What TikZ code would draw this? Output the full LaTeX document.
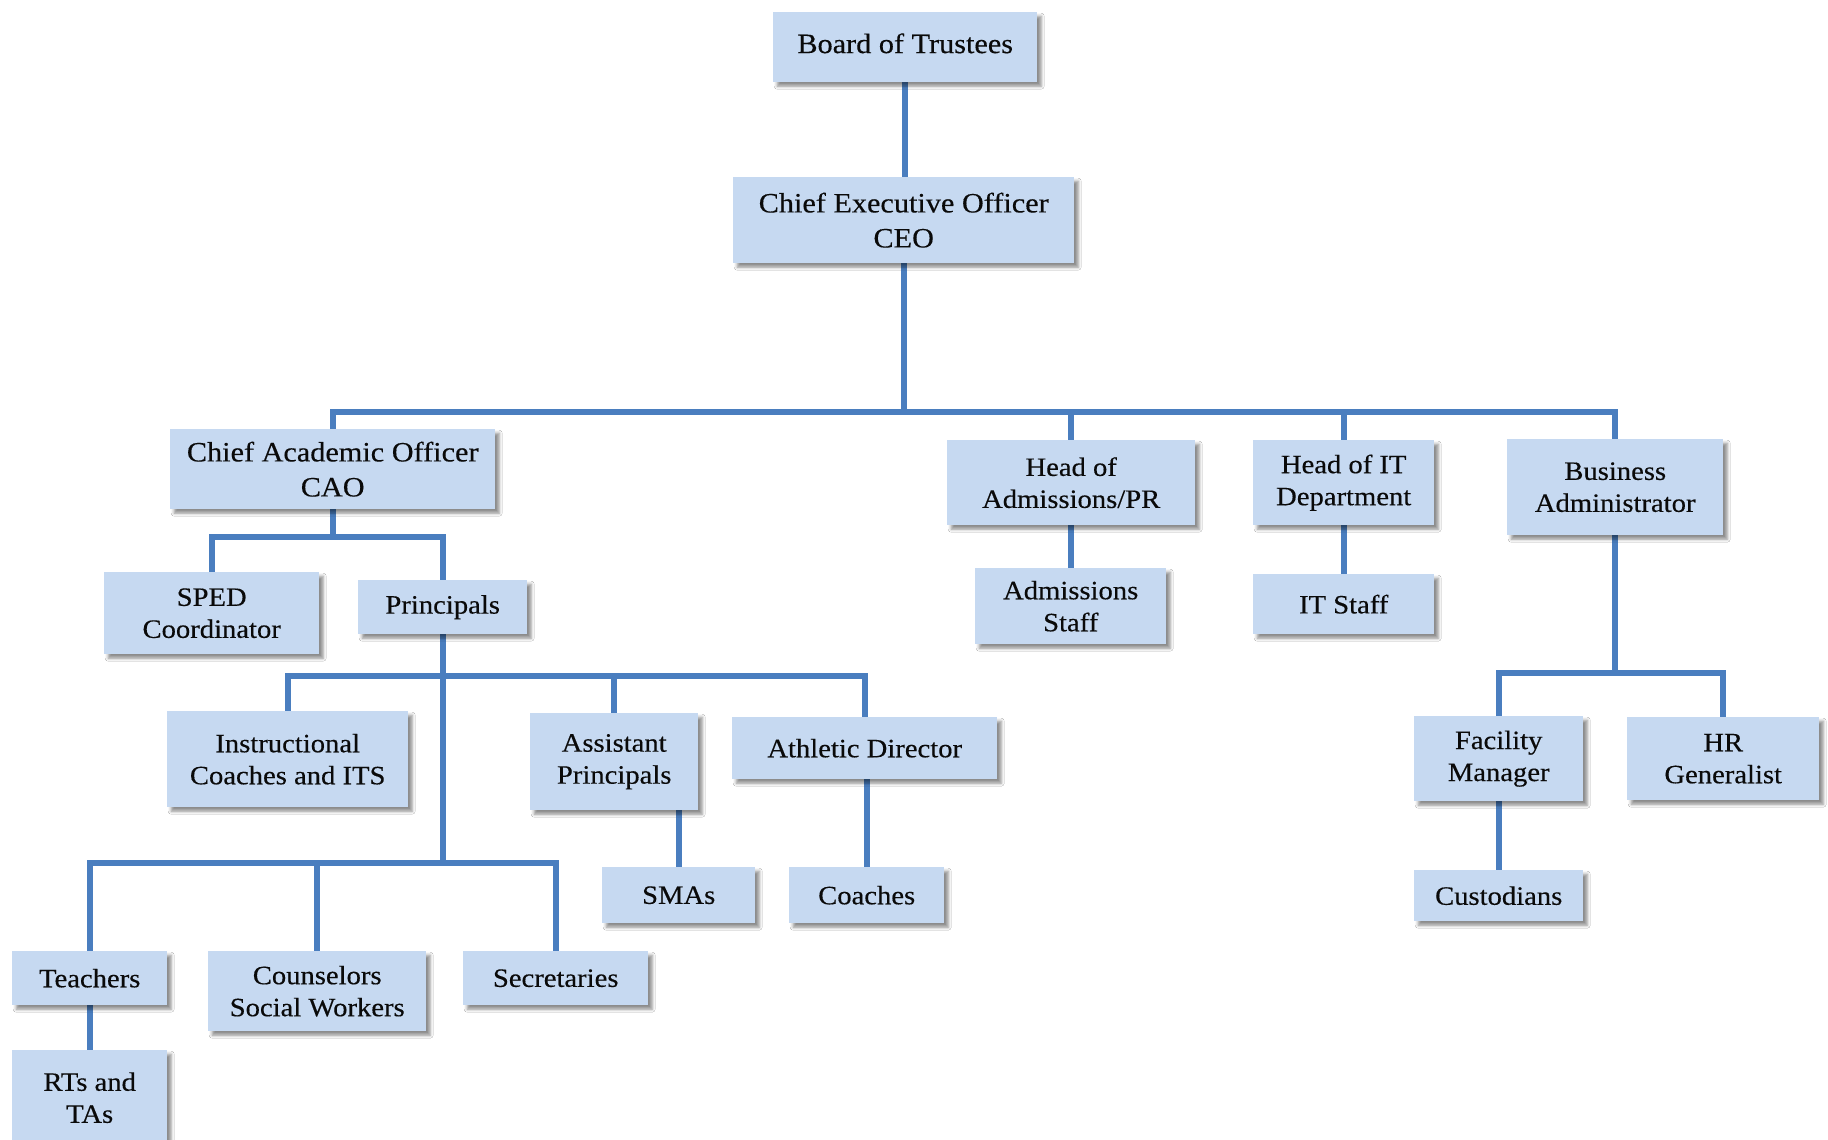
\documentclass[tikz,border=0pt]{standalone}
\usepackage{fontspec}
\setmainfont{Liberation Serif}[FakeStretch=1.08, FakeBold=0.35]
\usetikzlibrary{shadows.blur}
\pgfdeclarelayer{bg}
\pgfsetlayers{bg,main}
\definecolor{boxfill}{HTML}{C6D9F1}
\definecolor{linec}{HTML}{4A7EBF}
\definecolor{txt}{HTML}{0A0A0A}
\tikzset{
  box/.style={draw=none, fill=boxfill, text=txt, inner sep=0pt, anchor=north west,
    align=center, font=\fontsize{26.5}{32}\selectfont,
    blur shadow={shadow xshift=4pt, shadow yshift=-4pt, shadow blur radius=3pt, shadow opacity=45}},
  bigbox/.style={box, font=\fontsize{28}{35}\selectfont},
  conn/.style={draw=linec, line width=6pt, line join=miter},
}
\begin{document}
\begin{tikzpicture}[x=1pt,y=-1pt]
\useasboundingbox (0,0) rectangle (1828,1140);

\node[bigbox, minimum width=264pt, minimum height=70pt] (bot) at (773,12) {\raisebox{8pt}{Board of Trustees}};
\node[bigbox, minimum width=341pt, minimum height=86pt] (ceo) at (733,177) {Chief Executive Officer\\CEO};
\node[bigbox, minimum width=325pt, minimum height=80pt] (cao) at (170,429) {Chief Academic Officer\\CAO};
\node[box, minimum width=215pt, minimum height=82pt] (sped) at (104,572) {SPED\\Coordinator};
\node[box, minimum width=169pt, minimum height=54pt] (prin) at (358,580) {Principals};
\node[box, minimum width=241pt, minimum height=96pt] (ic) at (167,711) {Instructional\\Coaches and ITS};
\node[box, minimum width=168pt, minimum height=97pt] (ap) at (530,713) {Assistant\\Principals};
\node[box, minimum width=265pt, minimum height=62pt] (ad) at (732,717) {Athletic Director};
\node[box, minimum width=153pt, minimum height=56pt] (smas) at (602,867) {SMAs};
\node[box, minimum width=155pt, minimum height=56pt] (coach) at (789,867) {Coaches};
\node[box, minimum width=155pt, minimum height=54pt] (teach) at (12,951) {Teachers};
\node[box, minimum width=218pt, minimum height=80pt] (couns) at (208,951) {Counselors\\Social Workers};
\node[box, minimum width=185pt, minimum height=54pt] (secr) at (463,951) {Secretaries};
\node[box, minimum width=155pt, minimum height=95pt] (rts) at (12,1050) {RTs and\\TAs};
\node[box, minimum width=248pt, minimum height=85pt] (hadm) at (947,440) {Head of\\Admissions/PR};
\node[box, minimum width=191pt, minimum height=76pt] (astaff) at (975,568) {Admissions\\Staff};
\node[box, minimum width=181pt, minimum height=85pt] (hit) at (1253,440) {Head of IT\\Department};
\node[box, minimum width=181pt, minimum height=60pt] (itstaff) at (1253,574) {IT Staff};
\node[box, minimum width=216pt, minimum height=96pt] (ba) at (1507,439) {Business\\Administrator};
\node[box, minimum width=169pt, minimum height=85pt] (fm) at (1414,716) {Facility\\Manager};
\node[box, minimum width=192pt, minimum height=83pt] (hr) at (1627,717) {HR\\Generalist};
\node[box, minimum width=169pt, minimum height=51pt] (cust) at (1414,870) {Custodians};

\coordinate (b1) at (903,412);
\coordinate (b2) at (0,537);
\coordinate (b3) at (0,676);
\coordinate (b4) at (0,863);
\coordinate (b5) at (0,673);

\begin{pgfonlayer}{bg}
\fill[white] (0,0) rectangle (1828,1140);
\draw[conn] (bot.south) -- (bot.south |- ceo.north);
\draw[conn] (ceo.south) -- (ceo.south |- b1);
\draw[conn] (cao.north) -- (cao.north |- b1) -- (ba.north |- b1) -- (ba.north);
\draw[conn] (hadm.north) -- (hadm.north |- b1);
\draw[conn] (hit.north) -- (hit.north |- b1);

\draw[conn] (cao.south) -- (cao.south |- b2);
\draw[conn] (sped.north) -- (sped.north |- b2) -- (prin.north |- b2) -- (prin.north);
\draw[conn] (prin.south) -- (prin.south |- b4);
\draw[conn] (ic.north) -- (ic.north |- b3) -- (ad.north |- b3) -- (ad.north);
\draw[conn] (ap.north) -- (ap.north |- b3);
\draw[conn] (teach.north) -- (teach.north |- b4) -- (secr.north |- b4) -- (secr.north);
\draw[conn] (couns.north) -- (couns.north |- b4);
\draw[conn] (teach.south) -- (rts.north);
\draw[conn] (smas.north) -- (smas.north |- ap.south);
\draw[conn] (coach.north) -- (coach.north |- ad.south);

\draw[conn] (hadm.south) -- (hadm.south |- astaff.north);
\draw[conn] (hit.south) -- (hit.south |- itstaff.north);
\draw[conn] (ba.south) -- (ba.south |- b5);
\draw[conn] (fm.north) -- (fm.north |- b5) -- (hr.north |- b5) -- (hr.north);
\draw[conn] (fm.south) -- (fm.south |- cust.north);
\end{pgfonlayer}
\end{tikzpicture}
\end{document}
